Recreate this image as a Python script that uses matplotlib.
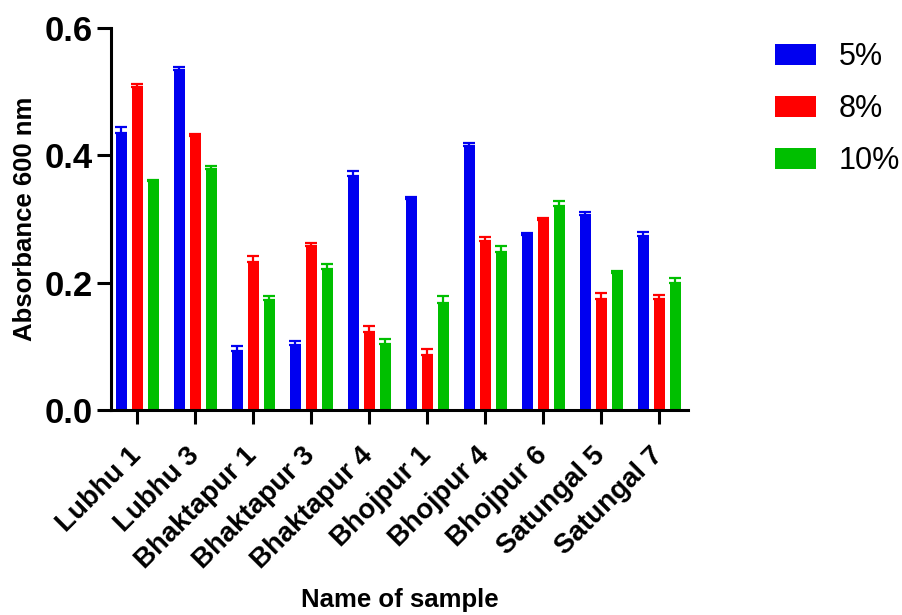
import matplotlib
matplotlib.use("Agg")
import matplotlib.pyplot as plt
import numpy as np

plt.rcParams['font.family'] = ['Liberation Sans', 'DejaVu Sans']

samples = ['Lubhu 1', 'Lubhu 3', 'Bhaktapur 1', 'Bhaktapur 3', 'Bhaktapur 4',
           'Bhojpur 1', 'Bhojpur 4', 'Bhojpur 6', 'Satungal 5', 'Satungal 7']
conc_labels = ['5%', '8%', '10%']

abs_5 = [0.435, 0.534, 0.093, 0.102, 0.368, 0.332, 0.414, 0.275, 0.306, 0.274]
abs_8 = [0.507, 0.430, 0.233, 0.257, 0.123, 0.087, 0.265, 0.299, 0.174, 0.174]
abs_10 = [0.359, 0.379, 0.173, 0.221, 0.104, 0.168, 0.248, 0.321, 0.215, 0.200]

err_5 = [0.009, 0.005, 0.008, 0.006, 0.008, 0.003, 0.005, 0.003, 0.005, 0.006]
err_8 = [0.005, 0.003, 0.009, 0.006, 0.009, 0.009, 0.006, 0.003, 0.009, 0.006]
err_10 = [0.003, 0.005, 0.006, 0.008, 0.008, 0.011, 0.010, 0.008, 0.004, 0.008]

colors = ['#0000F0', '#FF0000', '#00BF00']

fig = plt.figure(figsize=(9.03, 6.15), dpi=100)
ax = fig.add_axes([0.123, 0.3333, 0.639, 0.6212])

x = np.arange(len(samples))
width = 0.19
offset = 0.276

series = [(abs_5, err_5), (abs_8, err_8), (abs_10, err_10)]
for i, (vals, errs) in enumerate(series):
    pos = x + (i - 1) * offset
    ax.bar(pos, vals, width, color=colors[i], label=conc_labels[i], zorder=2)
    ax.errorbar(pos, vals, yerr=[np.zeros(len(vals)), errs], fmt='none',
                ecolor=colors[i], elinewidth=1.6, capsize=4, capthick=1.6, zorder=3)

ax.set_xlim(-0.45, 9.5)
ax.set_ylim(0, 0.6)
ax.set_yticks([0.0, 0.2, 0.4, 0.6])
ax.set_yticklabels(['0.0', '0.2', '0.4', '0.6'], fontsize=25, fontweight='bold')
ax.set_xticks(x)
ax.set_xticklabels(samples, rotation=45, ha='right', va='center',
                   rotation_mode='anchor', fontsize=20, fontweight='bold')

for side in ['top', 'right']:
    ax.spines[side].set_visible(False)
for side in ['left', 'bottom']:
    ax.spines[side].set_linewidth(2.2)
ax.tick_params(axis='both', length=10, width=2.2, pad=3)
ax.tick_params(axis='x', pad=20)

ax.set_ylabel('Absorbance 600 nm', fontsize=18.5, fontweight='bold')
ax.yaxis.set_label_coords(-0.128, 0.5)
ax.set_xlabel('Name of sample', fontsize=18.5, fontweight='bold')
ax.xaxis.set_label_coords(0.5, -0.497)
ax.xaxis.label.set_va('center')

fig.legend(loc='upper left', bbox_to_anchor=(0.828, 0.976), frameon=False,
           fontsize=22, handlelength=1.33, handleheight=0.68,
           handletextpad=0.75, labelspacing=0.72)

fig.savefig('out.png', dpi=100)
